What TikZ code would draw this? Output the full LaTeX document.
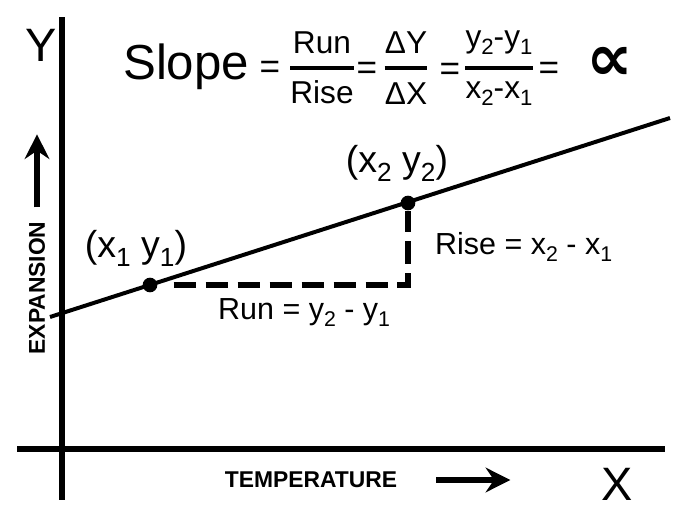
\documentclass[tikz,border=0pt]{standalone}
\usepackage{fontspec}
\setmainfont{Liberation Sans}
\newfontfamily\symbfont{DejaVu Sans}
\usepackage{graphicx}
\usetikzlibrary{arrows.meta}

\newcommand\lo[1]{\raisebox{-.22em}{\scalebox{.7}{#1}}}
\newcommand\runfrac[2]{\vbox{\halign{\hfil##\hfil\cr #1\cr
  \noalign{\kern13pt}#2\cr}}}

\begin{document}
\begin{tikzpicture}[x=0.03cm,y=-0.03cm,
  axisline/.style={line width=5.1pt},
  slopeline/.style={line width=3.4pt},
  runrise/.style={line width=4.3pt,dash pattern=on 18.8pt off 8.5pt},
  fracbar/.style={line width=3.6pt},
  ptdot/.style={circle,fill,inner sep=0pt,minimum size=12.5pt},
  lbl/.style={inner sep=0pt,font=\fontsize{26}{30}\selectfont},
  ptlab/.style={inner sep=0pt,font=\fontsize{32}{36}\selectfont},
  eqn/.style={inner sep=0pt,font=\fontsize{27}{30}\selectfont},
  eqsign/.style={inner sep=0pt,anchor=base,font=\fontsize{30}{34}\selectfont},
  axlbl/.style={inner sep=0pt,font=\fontsize{40}{44}\selectfont},
  qty/.style={inner sep=0pt,font=\fontsize{19.5}{22}\selectfont\bfseries},
  bigarrow/.style={line width=4.7pt,-{Stealth[length=21pt,width=21pt,inset=7pt]}}]
\useasboundingbox (0,0) rectangle (690,511);

% axes
\coordinate (ytop) at (62,17);
\coordinate (ybot) at (62,500);
\coordinate (xleft) at (17,449);
\coordinate (xright) at (665,449);
\draw[axisline] (ybot) -- (ytop);
\draw[axisline] (xleft) -- (xright);
\node[axlbl] (ylab) at (41,45) {Y};
\node[axlbl] (xlab) at (617,484) {X};

% what is measured
\node[qty,rotate=90] (expn) at (37,288) {EXPANSION};
\draw[bigarrow] (expn.east) ++(0,-14) -- ++(0,-73);
\node[qty] (temp) at (311,480) {TEMPERATURE};
\draw[bigarrow] (temp.east) ++(39,0) -- ++(74,0);

% the line and its two points
\coordinate (lstart) at (50,317);
\coordinate (lend) at (670,118);
\draw[slopeline] (lstart) -- (lend);
\node[ptdot] (p1) at (150,285) {};
\node[ptdot] (p2) at (408,203) {};
\draw[runrise,shorten <=13.7pt] (p1) -- (p1 -| p2) -- (p2);

\node[ptlab,anchor=base] (p1lab) at (136,258) {(x\lo{1} y\lo{1})};
\node[ptlab,anchor=base] (p2lab) at (397,173) {(x\lo{2} y\lo{2})};
\node[lbl,anchor=base west] (riselab) at (435,255) {Rise = x\lo{2} - x\lo{1}};
\node[lbl,anchor=base west] (runlab) at (218,320) {Run = y\lo{2} - y\lo{1}};

% slope equation
\node[anchor=base west,inner sep=0pt,font=\fontsize{42}{46}\selectfont] (slope) at (123,80) {Slope};
\node[eqsign] (eqa) at (270,79) {=};
\node[eqn] (fa) at (322,68) {\runfrac{Run}{Rise}};
\draw[fracbar] (fa.west) -- (fa.east);
\node[eqsign] (eqb) at (367,80) {=};
\node[eqn] (fb) at (406,68) {\runfrac{ΔY}{ΔX}};
\draw[fracbar] (fb.west) -- (fb.east);
\node[eqsign] (eqc) at (450,81) {=};
\node[eqn] (fc) at (499,68) {\runfrac{y\lo{2}-y\lo{1}}{x\lo{2}-x\lo{1}}};
\draw[fracbar] (fc.west) -- (fc.east);
\node[eqsign] (eqd) at (549,80) {=};
\node[inner sep=0pt,font=\fontsize{56}{60}\selectfont\symbfont\bfseries] (prop) at (610,64) {∝};
\end{tikzpicture}
\end{document}
